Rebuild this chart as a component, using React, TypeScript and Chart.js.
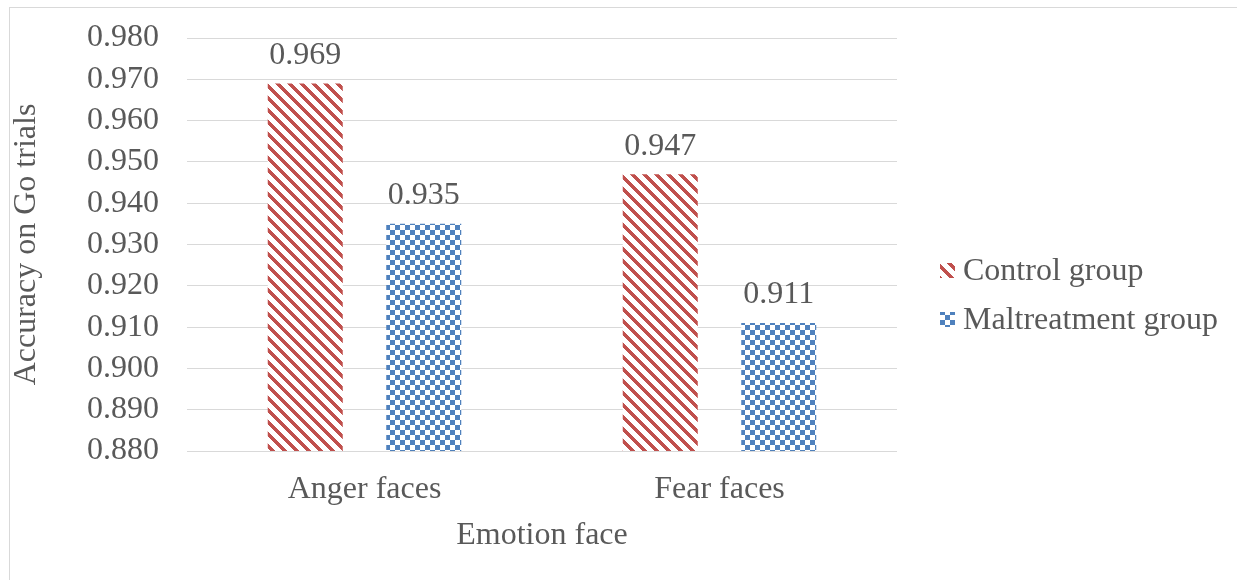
import React, { useEffect, useRef } from "react";
import { Chart, registerables } from "chart.js";

Chart.register(...registerables);

// Chart data
const categories = ["Anger faces", "Fear faces"];
const seriesNames = ["Control group", "Maltreatment group"];
const controlGroup = [0.969, 0.947];
const maltreatmentGroup = [0.935, 0.911];
const yMin = 0.88;
const yMax = 0.98;
const yStep = 0.01;
const xTitle = "Emotion face";
const yTitle = "Accuracy on Go trials";

const RED = "#C0504D";
const BLUE = "#4F81BD";
const TEXT = "#595959";
const GRID = "#D9D9D9";
const FONT_FAMILY = "'Liberation Serif', 'Times New Roman', serif";
const FONT = { family: FONT_FAMILY, size: 32 };

// Wide downward diagonal stripes (red on white)
function stripePattern(ctx: CanvasRenderingContext2D) {
  const size = 12;
  const c = document.createElement("canvas");
  c.width = size;
  c.height = size;
  const g = c.getContext("2d")!;
  g.fillStyle = "#ffffff";
  g.fillRect(0, 0, size, size);
  g.fillStyle = RED;
  for (let y = 0; y < size; y++) {
    for (let x = 0; x < size; x++) {
      if ((((x - y) % size) + size) % size < 5) g.fillRect(x, y, 1, 1);
    }
  }
  return ctx.createPattern(c, "repeat")!;
}

// Small checkerboard (blue on white)
function checkerPattern(ctx: CanvasRenderingContext2D) {
  const cell = 5;
  const c = document.createElement("canvas");
  c.width = cell * 2;
  c.height = cell * 2;
  const g = c.getContext("2d")!;
  g.fillStyle = "#ffffff";
  g.fillRect(0, 0, cell * 2, cell * 2);
  g.fillStyle = BLUE;
  g.fillRect(0, 0, cell, cell);
  g.fillRect(cell, cell, cell, cell);
  return ctx.createPattern(c, "repeat")!;
}

// Value labels above each bar
const valueLabels = {
  id: "valueLabels",
  afterDatasetsDraw(chart: any) {
    const { ctx } = chart;
    ctx.save();
    ctx.fillStyle = TEXT;
    ctx.font = `32px ${FONT_FAMILY}`;
    ctx.textAlign = "center";
    ctx.textBaseline = "middle";
    chart.data.datasets.forEach((ds: any, i: number) => {
      const meta = chart.getDatasetMeta(i);
      meta.data.forEach((el: any, j: number) => {
        ctx.fillText(Number(ds.data[j]).toFixed(3), el.x, el.y - 28);
      });
    });
    ctx.restore();
  },
};

// Legend at the right of the plot
const sideLegend = {
  id: "sideLegend",
  afterDraw(chart: any) {
    const { ctx } = chart;
    const boxX = 940;
    const textX = 963;
    const rows = [272, 321];
    ctx.save();
    ctx.font = `32px ${FONT_FAMILY}`;
    ctx.textAlign = "left";
    ctx.textBaseline = "middle";
    chart.data.datasets.forEach((ds: any, i: number) => {
      const cy = rows[i];
      ctx.fillStyle = ds.backgroundColor;
      ctx.fillRect(boxX, cy - 9, 15, 15);
      ctx.fillStyle = TEXT;
      ctx.fillText(ds.label, textX, cy);
    });
    ctx.restore();
  },
};

export default function App() {
  const canvasRef = useRef<HTMLCanvasElement>(null);

  useEffect(() => {
    const canvas = canvasRef.current!;
    const ctx = canvas.getContext("2d")!;
    let chart: Chart | null = null;
    let cancelled = false;

    const build = () => {
      if (cancelled) return;
      chart = new Chart(canvas, {
        type: "bar",
        data: {
          labels: categories,
          datasets: [
            {
              label: seriesNames[0],
              data: controlGroup,
              backgroundColor: stripePattern(ctx) as any,
              borderWidth: 0,
            },
            {
              label: seriesNames[1],
              data: maltreatmentGroup,
              backgroundColor: checkerPattern(ctx) as any,
              borderWidth: 0,
            },
          ],
        },
        options: {
          responsive: false,
          animation: false,
          layout: { padding: { left: 0, top: 38, right: 340, bottom: 0 } },
          datasets: {
            bar: { categoryPercentage: 0.6676, barPercentage: 0.633 },
          },
          plugins: {
            legend: { display: false },
            tooltip: { enabled: false },
          },
          scales: {
            x: {
              grid: { display: false },
              border: { display: false },
              ticks: { color: TEXT, font: FONT, padding: 11 },
              title: {
                display: true,
                text: xTitle,
                color: TEXT,
                font: FONT,
                padding: { top: 0, bottom: 25 },
              },
              afterFit: (s: any) => {
                s.height = 129;
              },
            },
            y: {
              min: yMin,
              max: yMax,
              ticks: {
                stepSize: yStep,
                autoSkip: false,
                color: TEXT,
                font: FONT,
                padding: 28,
                callback: (v: any) => Number(v).toFixed(3),
              },
              grid: { color: GRID, drawTicks: false, lineWidth: 1 },
              border: { display: false },
              title: {
                display: true,
                text: yTitle,
                color: TEXT,
                font: FONT,
                padding: { top: 7, bottom: 0 },
              },
              afterFit: (s: any) => {
                s.width = 187;
                // the plot's top edge is set by the layout padding alone
                s.paddingTop = 0;
                s.paddingBottom = 0;
              },
            },
          },
        },
        plugins: [valueLabels, sideLegend],
      });
    };

    // Make sure the serif face is ready before the canvas text is drawn
    const fonts = (document as any).fonts;
    if (fonts && fonts.load) {
      fonts.load(`32px "Liberation Serif"`).then(build, build);
    } else {
      build();
    }

    return () => {
      cancelled = true;
      if (chart) chart.destroy();
    };
  }, []);

  return (
    <div
      style={{
        position: "fixed",
        left: 0,
        top: 0,
        width: 1237,
        height: 580,
        overflow: "hidden",
        background: "#ffffff",
      }}
    >
      <div
        style={{
          position: "absolute",
          left: 9,
          top: 7,
          width: 1400,
          height: 800,
          border: "1px solid #D9D9D9",
        }}
      />
      <canvas
        ref={canvasRef}
        width={1237}
        height={580}
        style={{ position: "absolute", left: 0, top: 0 }}
      />
    </div>
  );
}
